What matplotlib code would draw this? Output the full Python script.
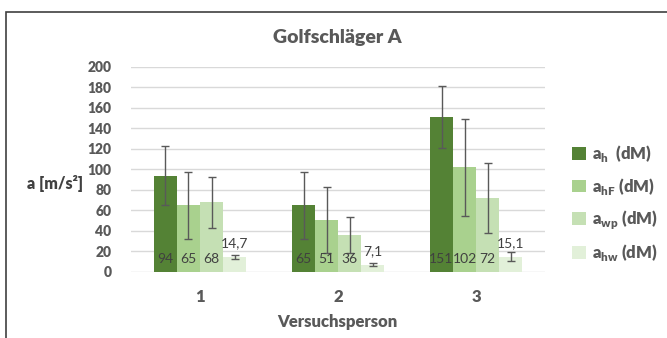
import numpy as np
import matplotlib.pyplot as plt
from matplotlib.patches import Rectangle

# data
persons = ["1", "2", "3"]
series = ["a$_\\mathregular{h}$  (dM)", "a$_\\mathregular{hF}$ (dM)",
          "a$_\\mathregular{wp}$ (dM)", "a$_\\mathregular{hw}$ (dM)"]
a_h = [94, 65, 151]
a_hF = [65, 51, 102]
a_wp = [68, 36, 72]
a_hw = [14.7, 7.1, 15.1]
err_h = [29, 32.5, 30.5]
err_hF = [32.5, 32, 47]
err_wp = [25, 17.5, 34]
err_hw = [2.3, 1.5, 4]
labels_h = ["94", "65", "151"]
labels_hF = ["65", "51", "102"]
labels_wp = ["68", "36", "72"]
labels_hw = ["14,7", "7,1", "15,1"]

colors = ["#548235", "#A9D18E", "#C5E0B4", "#E2F0D9"]
gray = "#595959"
bold = 'heavy'

plt.rcParams['font.family'] = ['Lato', 'DejaVu Sans']
plt.rcParams['mathtext.fontset'] = 'custom'
plt.rcParams['mathtext.rm'] = 'Lato:heavy'

fig = plt.figure(figsize=(6.67, 3.38), dpi=100)
ax = fig.add_axes([0.1964, 0.1953, 0.6207, 0.6065])

x = np.arange(len(persons))
w = 1 / 6
vals = [a_h, a_hF, a_wp, a_hw]
errs = [err_h, err_hF, err_wp, err_hw]
labs = [labels_h, labels_hF, labels_wp, labels_hw]

for i in range(4):
    pos = x + (i - 1.5) * w
    ax.bar(pos, vals[i], width=w, color=colors[i], label=series[i], zorder=2)
    ax.errorbar(pos, vals[i], yerr=errs[i], fmt='none', ecolor=gray,
                elinewidth=1, capsize=3, capthick=1, zorder=3)
    for j in range(len(persons)):
        if i < 3:
            ax.text(pos[j], 13, labs[i][j], ha='center', va='center',
                    fontsize=10, color="#404040")
        else:
            ax.text(pos[j], vals[i][j] + 13.5, labs[i][j], ha='center',
                    va='center', fontsize=10, color="#404040")

ax.set_xlim(-0.5, 2.5)
ax.set_ylim(0, 200)
ax.set_yticks(range(0, 201, 20))
ax.set_xticks(x)
ax.set_xticklabels(persons)
ax.grid(axis='y', color="#D9D9D9", linewidth=1, zorder=0)
for s in ax.spines.values():
    s.set_visible(False)
ax.tick_params(length=0, colors=gray, labelsize=10)
ax.tick_params(axis='y', pad=14)
ax.tick_params(axis='x', pad=12, labelsize=12)
for t in ax.get_xticklabels() + ax.get_yticklabels():
    t.set_fontweight(bold)

fig.text(0.506, 0.888, "Golfschläger A", ha='center', va='center',
         fontsize=14, color=gray, fontweight=bold)
fig.text(0.083, 0.458, "a [m/s²]", ha='center', va='center',
         fontsize=11.5, color="#404040", fontweight=bold)
fig.text(0.506, 0.047, "Versuchsperson", ha='center', va='center',
         fontsize=12, color=gray, fontweight=bold)

leg = ax.legend(loc='center left', bbox_to_anchor=(1.03, 0.335), frameon=False,
                handlelength=0.8, handleheight=0.8, handletextpad=0.4,
                labelspacing=0.68, fontsize=12)
for t in leg.get_texts():
    t.set_color(gray)
    t.set_fontweight(bold)

# outer frame of the chart area
fig.patches.append(Rectangle((6 / 667, -0.1), 1.2, 1.1 - 12 / 338,
                             transform=fig.transFigure, fill=False,
                             edgecolor="#404040", linewidth=1.2))

fig.savefig("out.png", dpi=100)
